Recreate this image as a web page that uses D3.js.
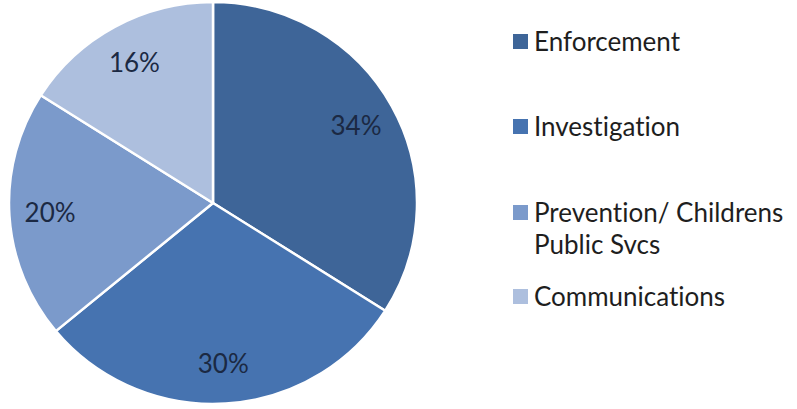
<!DOCTYPE html>
<html>
<head>
<meta charset="utf-8">
<script src="https://cdn.jsdelivr.net/npm/d3@7"></script>
<style>
  html, body { margin: 0; padding: 0; background: #ffffff; }
  svg { display: block; }
  text { font-variant-ligatures: none; font-feature-settings: "liga" 0; }
</style>
</head>
<body>
<svg id="chart" width="797" height="409"></svg>
<script>
// Budget share by programme area
const categories = ["Enforcement", "Investigation", "Prevention/ Childrens Public Svcs", "Communications"];
const legendLines = [["Enforcement"], ["Investigation"], ["Prevention/ Childrens", "Public Svcs"], ["Communications"]];
const shares = [34, 30, 20, 16];
const colors = ["#3e6598", "#4673b0", "#7b9acb", "#adbfde"];

const svg = d3.select("#chart");
const cx = 213, cy = 203, r = 204;

const pie = d3.pie().sort(null).value(d => d)(shares);
const arc = d3.arc().innerRadius(0).outerRadius(r);
const labelArc = d3.arc().innerRadius(r * 0.8).outerRadius(r * 0.8);

const g = svg.append("g").attr("transform", `translate(${cx},${cy}) scale(1,0.985)`);

g.selectAll("path.slice")
  .data(pie)
  .join("path")
  .attr("class", "slice")
  .attr("d", arc)
  .attr("fill", (d, i) => colors[i])
  .attr("stroke", "#ffffff")
  .attr("stroke-width", 2.5)
  .attr("stroke-linejoin", "round");

g.selectAll("text.pct")
  .data(pie)
  .join("text")
  .attr("class", "pct")
  .attr("transform", d => {
    const [x, y] = labelArc.centroid(d);
    return `translate(${x},${y}) scale(1,${1 / 0.985})`;
  })
  .attr("text-anchor", "middle")
  .attr("dy", "0.36em")
  .style("font-family", "Lato, 'Open Sans', sans-serif")
  .style("font-size", "26px")
  .attr("fill", "#1b2943")
  .text(d => d.value + "%");

// Legend
const legendY = [42, 127, 213, 297];
const legend = svg.append("g").attr("transform", "translate(513,0)");
const items = legend.selectAll("g.item")
  .data(categories)
  .join("g")
  .attr("class", "item")
  .attr("transform", (d, i) => `translate(0,${legendY[i]})`);

items.append("rect")
  .attr("x", 0)
  .attr("y", -8)
  .attr("width", 15)
  .attr("height", 15)
  .attr("fill", (d, i) => colors[i]);

items.append("text")
  .attr("x", 21)
  .attr("y", 0)
  .style("font-family", "Lato, 'Open Sans', sans-serif")
  .style("font-size", "26px")
  .attr("fill", "#1e1e1e")
  .each(function (d, i) {
    const t = d3.select(this);
    legendLines[i].forEach((line, k) => {
      t.append("tspan")
        .attr("x", 21)
        .attr("dy", k === 0 ? "0.36em" : "1.22em")
        .text(line);
    });
  });
</script>
</body>
</html>
